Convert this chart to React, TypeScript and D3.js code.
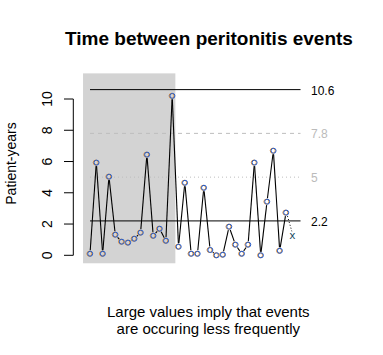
import React from "react";
import * as d3 from "d3";

const eventGaps: number[] = [
  0.1, 5.93, 0.1, 5.03, 1.32, 0.87, 0.81, 1.06, 1.45, 6.44, 1.25, 1.7, 0.93,
  10.2, 0.55, 4.64, 0.1, 0.1, 4.32, 0.34, 0.0, 0.04, 1.83, 0.68, 0.1, 0.68,
  5.93, 0.0, 3.43, 6.69, 0.29, 2.73,
];
const pendingGap = 1.28;
const refValues: number[] = [10.6, 7.8, 5, 2.2];
const refLabels: string[] = ["10.6", "7.8", "5", "2.2"];
const refStyles: string[] = ["solid", "dashed", "dotted", "solid"];
const yTicks: number[] = [0, 2, 4, 6, 8, 10];
const shadedUntil = 13.5;

const title = "Time between peritonitis events";
const yLabel = "Patient-years";
const noteLines: string[] = [
  "Large values imply that events",
  "are occuring less frequently",
];

export default function App() {
  const W = 383;
  const H = 355;
  const x = d3.scaleLinear().domain([0, 31]).range([90, 286]);
  const y = d3.scaleLinear().domain([0, 10]).range([255.3, 99]);
  const font = "Liberation Sans, Arial, sans-serif";
  const r = 2.5;
  const gap = 1.0;

  const pts = eventGaps.map((v, i) => [x(i), y(v)] as [number, number]);
  const segs: [number, number, number, number][] = [];
  for (let i = 0; i < pts.length - 1; i++) {
    const [x1, y1] = pts[i];
    const [x2, y2] = pts[i + 1];
    const dx = x2 - x1;
    const dy = y2 - y1;
    const len = Math.hypot(dx, dy);
    const s = r + gap;
    if (len > 2 * s) {
      const ux = dx / len;
      const uy = dy / len;
      segs.push([x1 + ux * s, y1 + uy * s, x2 - ux * s, y2 - uy * s]);
    }
  }
  const last = pts[pts.length - 1];
  const px = x(eventGaps.length);
  const py = y(pendingGap);

  const plotTop = y(11.64);
  const plotBottom = y(-0.51);
  const plotLeft = x(-1.1);

  const lineStart = x(0);
  const lineEnd = x(33.3);

  return (
    <svg width={W} height={H} style={{ display: "block", position: "absolute", left: 0, top: 0 }}>
      <rect x={0} y={0} width={W} height={H} fill="#ffffff" />
      <rect
        x={plotLeft}
        y={plotTop}
        width={x(shadedUntil) - plotLeft}
        height={plotBottom - plotTop}
        fill="#d3d3d3"
      />
      {refValues.map((v, i) => (
        <line
          key={"ref" + i}
          x1={lineStart}
          x2={lineEnd}
          y1={y(v)}
          y2={y(v)}
          stroke={refStyles[i] === "solid" ? "#000" : "#bebebe"}
          strokeWidth={1}
          strokeDasharray={
            refStyles[i] === "dashed" ? "4,4" : refStyles[i] === "dotted" ? "1,3" : undefined
          }
        />
      ))}
      {refValues.map((v, i) => (
        <text
          key={"rl" + i}
          x={311}
          y={y(v) + 1}
          dominantBaseline="central"
          fontFamily={font}
          fontSize={12}
          fill={refStyles[i] === "solid" ? "#000" : "#bbbbbb"}
        >
          {refLabels[i]}
        </text>
      ))}
      {segs.map((s, i) => (
        <line key={"s" + i} x1={s[0]} y1={s[1]} x2={s[2]} y2={s[3]} stroke="#000" strokeWidth={1.1} />
      ))}
      <line
        x1={last[0] + 1.5}
        y1={last[1] + 3.5}
        x2={px - 0.5}
        y2={py - 4}
        stroke="#000"
        strokeWidth={1}
        strokeDasharray="1,2"
      />
      <text
        x={px}
        y={py}
        textAnchor="middle"
        dominantBaseline="central"
        fontFamily={font}
        fontSize={11.5}
        fill="#14465e"
      >
        x
      </text>
      {pts.map((p, i) => (
        <g key={"p" + i}>
          <circle cx={p[0] - 0.6} cy={p[1]} r={r} fill="none" stroke="#e08a2c" strokeWidth={1} />
          <circle cx={p[0] + 0.2} cy={p[1]} r={r} fill="none" stroke="#1d5ad0" strokeWidth={1} />
        </g>
      ))}
      {/* y axis */}
      <line x1={73.3} x2={73.3} y1={y(0)} y2={y(10)} stroke="#000" strokeWidth={1} />
      {yTicks.map((t) => (
        <g key={"t" + t}>
          <line x1={64} x2={73.3} y1={y(t)} y2={y(t)} stroke="#000" strokeWidth={1} />
          <text
            transform={`translate(52.3,${y(t)}) rotate(-90)`}
            textAnchor="middle"
            fontFamily={font}
            fontSize={14}
            fill="#000"
          >
            {t}
          </text>
        </g>
      ))}
      <text
        transform={`translate(16,163.5) rotate(-90)`}
        textAnchor="middle"
        fontFamily={font}
        fontSize={14}
        fill="#000"
      >
        {yLabel}
      </text>
      <text
        x={209}
        y={45}
        textAnchor="middle"
        fontFamily={font}
        fontSize={19}
        fontWeight="bold"
        fill="#000"
      >
        {title}
      </text>
      {noteLines.map((l, i) => (
        <text
          key={"n" + i}
          x={208.3}
          y={316.5 + i * 17}
          textAnchor="middle"
          fontFamily={font}
          fontSize={15}
          fill="#000"
        >
          {l}
        </text>
      ))}
    </svg>
  );
}
